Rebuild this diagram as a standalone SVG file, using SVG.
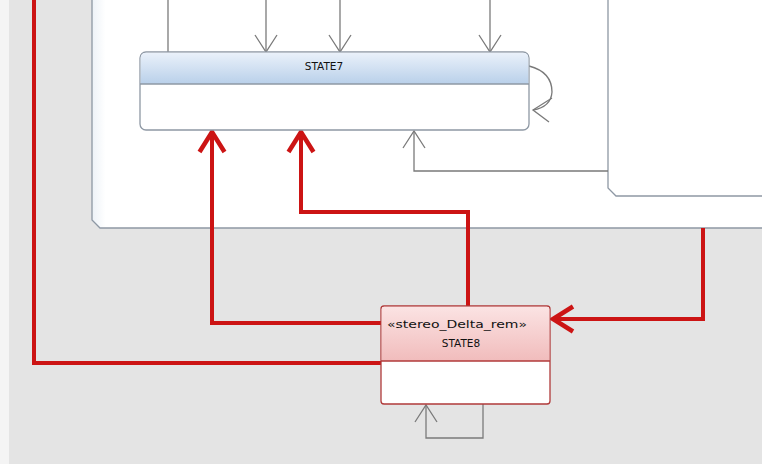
<svg xmlns="http://www.w3.org/2000/svg" width="762" height="464" viewBox="0 0 762 464">
<style>
.gl{fill:none;stroke:#7a7a7a;stroke-width:1.3}
.rl{fill:none;stroke:#cc1414;stroke-width:4;stroke-linejoin:miter}
.frame{fill:#ffffff;stroke:#8e98a4;stroke-width:1.3}
.lbl{font-family:"DejaVu Sans","Liberation Sans",sans-serif;font-size:10.5px;fill:#111;text-anchor:middle}
</style>
<defs>
<linearGradient id="g7" x1="0" y1="0" x2="0" y2="1"><stop offset="0" stop-color="#eaf1fa"/><stop offset="1" stop-color="#b9d0ea"/></linearGradient>
<linearGradient id="g8" x1="0" y1="0" x2="0" y2="1"><stop offset="0" stop-color="#fbe3e3"/><stop offset="1" stop-color="#f1bcbc"/></linearGradient>
<linearGradient id="g8b" x1="0" y1="0" x2="0" y2="1"><stop offset="0" stop-color="#fdf1f1"/><stop offset="0.4" stop-color="#ffffff"/></linearGradient>
<linearGradient id="gc" x1="0" y1="0" x2="1" y2="0"><stop offset="0" stop-color="#edf2f7"/><stop offset="0.02" stop-color="#ffffff"/></linearGradient>
<marker id="ag" markerUnits="userSpaceOnUse" markerWidth="40" markerHeight="40" viewBox="-20 -20 40 40" refX="0" refY="0" orient="auto" overflow="visible">
<path d="M-17,-11 L0,0 L-17,11" fill="none" stroke="#7a7a7a" stroke-width="1.3"/>
</marker>
<marker id="ar" markerUnits="userSpaceOnUse" markerWidth="50" markerHeight="50" viewBox="-25 -25 50 50" refX="0" refY="0" orient="auto" overflow="visible">
<path d="M-20,-12.5 L0,0 L-20,12.5" fill="none" stroke="#cc1414" stroke-width="4.5" stroke-linejoin="miter"/>
</marker>
</defs>
<rect x="0" y="0" width="762" height="464" fill="#e4e4e4"/>
<rect x="0" y="0" width="9" height="464" fill="#f4f4f4"/>
<g id="container">
<path d="M92,-5 L92,220 L100,228 L767,228 L767,-5 Z" fill="url(#gc)" stroke="#8e98a4" stroke-width="1.3"/>
<path d="M608,-5 L608,188 L616,196 L767,196" class="frame"/>
</g>
<g id="connectors">
<path class="gl" d="M168,-2 L168,52"/>
<path class="gl" d="M266,-2 L266,52" marker-end="url(#ag)"/>
<path class="gl" d="M340,-2 L340,52" marker-end="url(#ag)"/>
<path class="gl" d="M490,-2 L490,52" marker-end="url(#ag)"/>
<path class="gl" d="M529,66 Q552,72 552,92 Q551,107 533,110"/>
<path class="gl" d="M552,98 L533,110 L549,122"/>
<path class="gl" d="M608,171 L414,171 L414,131" marker-end="url(#ag)"/>
<path class="gl" d="M483,404 L483,438 L426,438 L426,405" marker-end="url(#ag)"/>
<path class="rl" d="M34,-2 L34,363 L381,363"/>
<path class="rl" d="M381,323 L212,323 L212,132" marker-end="url(#ar)"/>
<path class="rl" d="M468,306 L468,212 L301,212 L301,132" marker-end="url(#ar)"/>
<path class="rl" d="M703,228 L703,319 L553,319" marker-end="url(#ar)"/>
</g>
<g id="state7">
<rect x="140" y="52" width="389" height="78" rx="6" fill="#ffffff" stroke="#8e98a4" stroke-width="1.3"/>
<path d="M140.7,84 L140.7,58 Q140.7,52.7 146,52.7 L523,52.7 Q528.3,52.7 528.3,58 L528.3,84 Z" fill="url(#g7)"/>
<line x1="140" y1="84" x2="529" y2="84" stroke="#8e98a4" stroke-width="1.3"/>
<text class="lbl" x="324" y="70">STATE7</text>
</g>
<g id="state8">
<rect x="381" y="306" width="169" height="98" rx="3" fill="url(#g8b)" stroke="#b03a3a" stroke-width="1.3"/>
<path d="M381.7,361 L381.7,309 Q381.7,306.7 384,306.7 L547,306.7 Q549.3,306.7 549.3,309 L549.3,361 Z" fill="url(#g8)"/>
<line x1="381" y1="361" x2="550" y2="361" stroke="#b03a3a" stroke-width="1.3"/>
<text class="lbl" x="457" y="328" textLength="140" lengthAdjust="spacingAndGlyphs">«stereo_Delta_rem»</text>
<text class="lbl" x="461" y="347">STATE8</text>
</g>
</svg>
